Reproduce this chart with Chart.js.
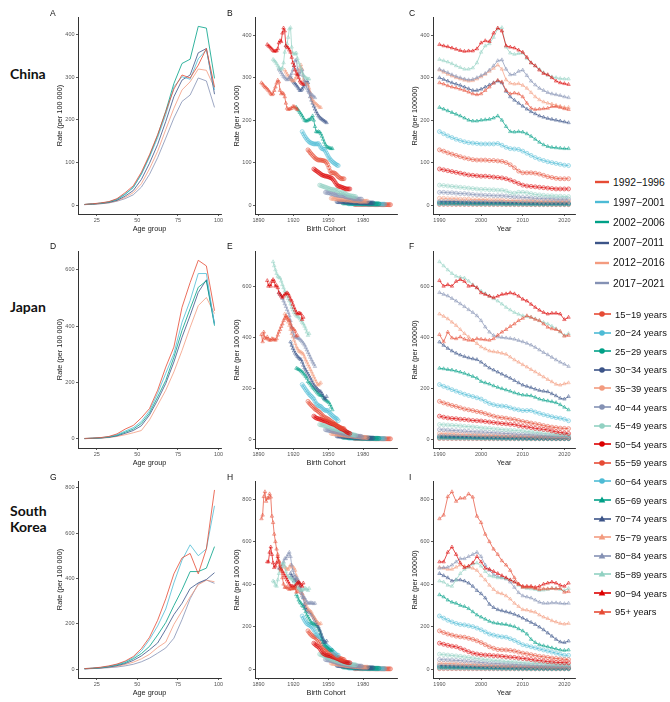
<!DOCTYPE html>
<html>
<head>
<meta charset="utf-8">
<script src="https://cdn.jsdelivr.net/npm/chart.js@4.4.1/dist/chart.umd.min.js"></script>
<style>
  body { margin: 0; width: 670px; height: 702px; position: relative; background: #fff; overflow: hidden;
         font-family: "Liberation Sans", Arial, sans-serif; }
  canvas { position: absolute; }
  .tag { position: absolute; font-size: 8.5px; color: #111; line-height: 1; }
  .country { position: absolute; font-family: Lato, "Liberation Sans", sans-serif; font-weight: bold;
             font-size: 14px; line-height: 16px; color: #111; }
  .leg { position: absolute; display: flex; align-items: center; color: #111; white-space: nowrap; }
  .leg svg { margin-right: 2px; }
</style>
</head>
<body>
<script>
// ---- categories / ticks ----
const years = [1990,1991,1992,1993,1994,1995,1996,1997,1998,1999,2000,2001,2002,2003,2004,2005,
               2006,2007,2008,2009,2010,2011,2012,2013,2014,2015,2016,2017,2018,2019,2020,2021];
const ageLabels = ['15−19 years','20−24 years','25−29 years','30−34 years','35−39 years','40−44 years',
                   '45−49 years','50−54 years','55−59 years','60−64 years','65−69 years','70−74 years',
                   '75−79 years','80−84 years','85−89 years','90−94 years','95+ years'];
const ageMid = [17.5,22.5,27.5,32.5,37.5,42.5,47.5,52.5,57.5,62.5,67.5,72.5,77.5,82.5,87.5,92.5,97.5];
const periodLabels = ['1992−1996','1997−2001','2002−2006','2007−2011','2012−2016','2017−2021'];
const ageTicks = [25, 50, 75, 100];
const cohortTicks = [1890, 1920, 1950, 1980];
const yearTicks = [1990, 2000, 2010, 2020];
const chinaTicks = [0, 100, 200, 300, 400];
const japanTicks = [0, 200, 400, 600];
const koreaTicks = [0, 200, 400, 600, 800];

// ---- China, rate per 100 000 by year (1990-2021) ----
const cn15 = [1.5,1.5,1.5,1.5,1.4,1.4,1.4,1.4,1.3,1.3,1.3,1.3,1.2,1.2,1.2,1.2,1.1,1.1,1.1,1.1,1,1,1,1,1,1,1,1,1,1,1,1];
const cn20 = [3,3,3,3,3,3,2.8,2.8,2.8,2.6,2.6,2.6,2.5,2.5,2.5,2.4,2.4,2.3,2.3,2.2,2.2,2.1,2.1,2,2,2,2,2,2,2,2,2];
const cn25 = [5,5,5,5,4.5,4.5,4.5,4.5,4,4,4,4,4,4,4,4,3.5,3.5,3.5,3.5,3.5,3.5,3,3,3,3,3,3,3,3,3,3];
const cn30 = [8,8,8,8,8,7.5,7.5,7,7,7,7,7,6.5,6.5,6.5,6.5,6,6,6,6,5.5,5.5,5.5,5.5,5,5,5,5,5,5,5,5];
const cn35 = [16,16,15,15,15,14,14,14,13,13,13,13,12,12,12,12,11,11,11,10,10,10,10,10,9,9,9,9,9,9,9,9];
const cn40 = [30,30,29,29,28,27,27,26,25,24,24,23,23,22,22,22,21,20,19,19,18,18,17,16,16,15,15,15,14,14,14,14];
const cn45 = [47,46,45,44,43,42,41,40,39,38,37,37,36,36,35,35,33,29,28,30,30,29,27,25,24,23,22,22,21,21,20,20];
const cn50 = [85,83,81,79,77,75,73,71,70,69,68,68,67,66,65,64,62,59,55,51,47,45,44,43,42,41,40,39,38,38,38,38];
const cn55 = [130,127,123,120,117,114,111,109,107,106,106,106,105,105,104,103,100,95,88,80,76,76,76,75,73,70,67,65,63,62,62,62];
const cn60 = [173,168,163,159,155,152,149,147,146,145,144,144,144,144,145,141,136,133,132,131,127,122,117,112,108,105,102,100,98,96,94,93];
const cn65 = [230,226,222,218,214,210,205,200,198,198,200,201,202,205,210,200,185,173,172,173,172,168,162,155,148,142,138,136,135,134,133,133];
const cn70 = [300,296,292,288,285,282,278,274,270,270,273,278,283,288,292,288,268,255,247,240,233,226,220,215,210,207,204,202,200,198,196,194];
const cn75 = [318,313,308,304,300,297,294,292,293,297,302,308,315,322,330,320,295,287,285,286,282,275,265,255,248,243,240,238,235,233,230,230];
const cn80 = [320,316,312,307,303,300,297,295,296,300,305,310,318,328,340,342,320,307,308,315,318,305,292,283,275,270,265,262,260,258,255,253];
const cn85 = [343,340,337,333,328,324,320,320,323,335,360,375,380,395,415,418,372,358,355,357,358,345,335,328,320,312,306,302,300,298,297,297];
const cn90 = [378,375,373,370,367,364,362,363,363,368,382,387,385,405,417,410,375,372,370,365,360,348,335,328,318,310,307,300,292,288,286,284];
const cn95 = [288,285,281,278,276,273,270,266,262,260,262,270,278,287,294,290,270,262,264,262,255,240,228,225,226,227,228,232,232,230,227,225];

// ---- Japan ----
const jp15 = [2,2,2,1.9,1.9,1.8,1.8,1.7,1.7,1.6,1.6,1.5,1.5,1.4,1.4,1.3,1.3,1.2,1.2,1.1,1.1,1,1,1,1,1,1,1,1,1,1,1];
const jp20 = [4,4,3.9,3.8,3.7,3.6,3.5,3.4,3.3,3.2,3.1,3,2.9,2.8,2.7,2.6,2.5,2.4,2.3,2.2,2.1,2,2,2,2,2,2,2,2,2,2,2];
const jp25 = [7,7,6.8,6.6,6.4,6.2,6,5.8,5.6,5.4,5.2,5,4.8,4.6,4.4,4.2,4,3.9,3.8,3.7,3.6,3.5,3.4,3.3,3.2,3.1,3,3,3,3,3,3];
const jp30 = [12,12,11.5,11,11,10.5,10,10,9.5,9,9,8.5,8,8,7.5,7,7,6.5,6.5,6,6,5.5,5.5,5,5,4.5,4.5,4.5,4,4,4,4];
const jp35 = [22,22,21,21,20,19,19,18,17,17,16,15,15,14,14,13,13,12,12,11,11,10,10,9,9,8,8,7,7,7,6,6];
const jp40 = [37,36,35,34,33,32,31,30,29,28,28,27,26,25,24,23,22,21,20,19,19,18,17,16,15,14,13,12,12,11,11,10];
const jp45 = [57,56,55,54,53,52,50,49,48,46,44,43,42,40,39,37,36,35,34,33,32,30,28,27,25,23,21,20,18,17,16,15];
const jp50 = [90,86,83,81,80,78,77,75,73,72,71,69,67,65,63,61,60,58,57,53,50,48,45,42,40,38,36,32,29,26,24,22];
const jp55 = [148,142,137,132,128,123,118,115,112,108,105,100,95,90,86,84,82,79,77,73,69,66,63,60,57,53,50,47,45,43,42,41];
const jp60 = [214,207,201,194,188,182,176,171,167,162,157,148,140,135,131,130,128,123,118,115,112,112,112,106,101,96,92,88,84,82,78,72];
const jp65 = [278,276,273,271,267,263,258,252,246,239,226,221,216,209,203,198,193,188,182,177,173,172,170,164,157,153,150,147,143,135,125,115];
const jp70 = [381,368,356,346,337,330,324,319,315,312,302,290,279,271,263,255,247,239,230,221,212,207,202,196,191,188,186,178,170,160,157,167];
const jp75 = [491,482,472,459,446,430,414,401,388,375,362,354,346,343,341,337,333,322,311,302,292,283,273,264,254,244,234,225,215,212,217,221];
const jp80 = [575,568,562,552,542,531,520,508,497,484,465,440,420,407,401,399,397,395,392,387,382,376,369,360,350,340,331,321,311,302,294,285];
const jp85 = [696,680,664,650,639,635,632,620,606,594,581,571,561,551,542,530,517,507,497,490,484,481,478,472,465,458,452,443,433,420,407,414];
const jp90 = [622,600,606,600,619,626,619,600,603,594,574,568,561,555,561,568,570,574,570,561,549,542,529,517,506,497,491,494,494,491,469,478];
const jp95 = [410,382,420,397,394,401,392,388,388,394,392,390,388,394,408,420,430,442,452,465,474,484,478,470,465,452,439,433,430,423,404,407];

// ---- South Korea ----
const kr15 = [2,2,2,1.9,1.9,1.8,1.8,1.7,1.7,1.6,1.6,1.5,1.5,1.4,1.4,1.3,1.3,1.2,1.2,1.1,1.1,1,1,1,1,1,1,1,1,1,1,1];
const kr20 = [5,4.9,4.8,4.7,4.6,4.5,4.4,4.2,4,3.8,3.6,3.4,3.2,3,2.9,2.8,2.7,2.6,2.5,2.4,2.3,2.2,2.1,2,2,2,2,2,2,2,2,2];
const kr25 = [10,9.7,9.4,9.1,8.8,8.5,8.2,7.9,7.6,7.3,7,6.7,6.4,6.1,5.8,5.5,5.3,5.1,4.9,4.7,4.5,4.4,4.3,4.2,4.1,4,4,4,4,4,4,4];
const kr30 = [17,16.5,16,15.5,15,14.5,14,13.5,13,12.5,12,11.5,11,10.5,10,9.5,9,9,8.5,8,8,7.5,7.5,7,7,6.5,6.5,6,6,6,6,6];
const kr35 = [28,27,26,26,25,24,23,22,21,20,19,18,17,16,16,15,14,14,13,13,12,12,11,11,10,10,10,9,9,9,9,9];
const kr40 = [45,44,43,42,41,40,38,37,35,33,31,30,28,27,26,25,24,23,22,21,20,19,18,18,17,16,16,15,15,14,14,14];
const kr45 = [70,68,66,64,62,60,57,55,52,50,47,45,43,41,40,38,36,35,34,32,30,29,28,27,26,25,24,23,22,21,20,20];
const kr50 = [122,117,112,108,105,98,90,82,75,71,68,66,65,63,62,60,58,56,55,52,50,48,45,42,40,38,35,34,32,31,30,30];
const kr55 = [180,172,165,160,155,152,150,145,140,133,125,115,105,98,92,91,90,88,85,80,75,72,68,64,60,58,55,52,50,48,46,45];
const kr60 = [250,240,230,222,215,210,208,204,200,193,185,175,165,160,155,152,150,143,135,125,115,110,105,100,95,90,85,80,75,70,65,65];
const kr65 = [350,340,325,315,310,300,295,285,270,255,245,235,225,218,215,212,210,205,200,190,180,165,140,125,115,110,105,100,95,90,88,90];
const kr70 = [450,440,430,415,420,420,415,405,390,370,355,335,305,290,280,275,270,265,258,250,240,230,220,210,198,185,170,155,140,128,125,132];
const kr75 = [480,475,470,470,480,490,485,480,475,465,440,420,395,375,360,355,345,330,310,295,280,278,272,268,255,245,238,228,222,215,212,215];
const kr80 = [475,478,480,490,505,520,520,530,540,550,530,490,465,445,435,430,425,410,385,360,345,340,335,325,315,310,310,312,312,310,308,310];
const kr85 = [415,410,395,390,420,450,470,480,495,500,485,460,440,435,430,430,425,420,410,395,385,380,378,375,370,372,375,380,380,375,370,380];
const kr90 = [505,505,550,575,540,500,478,485,500,530,505,475,470,460,450,440,430,420,410,400,390,390,390,385,390,400,405,410,405,395,390,405];
const kr95 = [708,725,812,835,790,805,805,825,810,720,690,635,600,565,540,510,490,465,430,400,385,385,385,380,375,378,378,380,378,380,362,365];

// ---- period curves by age group (15-19 ... 95+) ----
const cnP1992 = [1.5,3,5,8,15,29,45,77,118,165,219,272,305,298,328,367,277];
const cnP1997 = [1.3,2.7,4.5,7.5,14,26,42,72,112,158,212,277,301,295,343,364,270];
const cnP2002 = [1.3,2.6,4.3,7,13,25,41,73,115,163,220,285,332,342,419,415,297];
const cnP2007 = [1.1,2.3,3.8,6.2,11,21,34,60,98,142,196,254,293,305,357,367,260];
const cnP2012 = [1,2,3.3,5.5,10,18,29,50,85,126,177,227,270,289,319,316,275];
const cnP2017 = [0.9,1.8,3,5,9,15,24,42,72,111,157,204,243,258,298,291,229];

const jpP1992 = [2,3,5,9,18,35,48,75,108,173,255,326,467,555,634,614,455];
const jpP1997 = [1.5,3,4.5,8,15,28,40,62,100,162,233,303,414,491,587,587,406];
const jpP2002 = [1.5,2.5,4,7,13,24,35,55,92,149,208,290,385,462,538,561,402];
const jpP2007 = [1.3,2.3,3.5,6,11,20,30,47,85,138,197,273,361,438,520,565,409];
const jpP2012 = [1,2,3,5,9,15,22,30,68,120,173,238,314,396,473,502,445];

const krP1992 = [2,4,8,14,22,35,55,90,140,215,310,420,490,510,420,530,790];
const krP1997 = [2,4,7,12,20,32,50,80,130,190,265,380,480,548,500,530,720];
const krP2002 = [1.5,3,6,11,18,28,45,68,100,150,205,280,350,430,430,445,540];
const krP2007 = [1.3,3,5,9,15,24,38,58,85,115,175,240,290,355,380,395,425];
const krP2012 = [1.2,2.5,4.5,8,12,20,30,45,65,95,119,197,256,318,372,392,385];
const krP2017 = [1,2,4,6,9,14,21,32,48,70,93,136,218,310,376,393,378];

// ---- assembled lists ----
const chinaRates = [cn15,cn20,cn25,cn30,cn35,cn40,cn45,cn50,cn55,cn60,cn65,cn70,cn75,cn80,cn85,cn90,cn95];
const japanRates = [jp15,jp20,jp25,jp30,jp35,jp40,jp45,jp50,jp55,jp60,jp65,jp70,jp75,jp80,jp85,jp90,jp95];
const koreaRates = [kr15,kr20,kr25,kr30,kr35,kr40,kr45,kr50,kr55,kr60,kr65,kr70,kr75,kr80,kr85,kr90,kr95];
const chinaPeriods = [cnP1992,cnP1997,cnP2002,cnP2007,cnP2012,cnP2017];
const japanPeriods = [jpP1992,jpP1997,jpP2002,jpP2007,jpP2012];
const koreaPeriods = [krP1992,krP1997,krP2002,krP2007,krP2012,krP2017];

const palette = ['#E64B35','#4DBBD5','#00A087','#3C5488','#F39B7F','#8491B4','#91D1C2','#DC0000'];
const FONT = '"Liberation Sans", Arial, sans-serif';

// panel grid (plot area edges)
const colLeft = [78, 255, 433], colRight = [221, 397, 575];
const rowTop = [17, 251, 481], rowBottom = [214, 448, 678];

function rgba(hex, a) {
  const n = parseInt(hex.slice(1), 16);
  return `rgba(${n >> 16},${(n >> 8) & 255},${n & 255},${a})`;
}

function axis(min, max, ticks, title, isX) {
  return {
    type: 'linear', min, max,
    afterBuildTicks: s => { s.ticks = ticks.map(v => ({ value: v })); },
    afterFit: s => {
      if (isX) { s.height = 22; s.paddingLeft = 0; s.paddingRight = 0; }
      else { s.width = 30; s.paddingTop = 0; s.paddingBottom = 0; }
    },
    grid: { display: true, drawOnChartArea: false, drawTicks: true, tickLength: 2, color: '#333', lineWidth: 0.8 },
    border: { display: true, color: '#333', width: 1 },
    ticks: { color: '#555', font: { size: 5.5, family: FONT }, padding: 1.5, maxRotation: 0, autoSkip: false,
             callback: v => String(v) },
    title: { display: true, text: title, color: '#222', font: { size: 7.3, family: FONT },
             padding: isX ? { top: 0, bottom: 2.5 } : { top: 7.5, bottom: 0 } }
  };
}

function panel(col, row, datasets, xr, xticks, xtitle, yr, yticks, ytitle) {
  const c = document.createElement('canvas');
  c.width = colRight[col] - colLeft[col] + 38;
  c.height = rowBottom[row] - rowTop[row] + 26;
  c.style.left = (colLeft[col] - 30) + 'px';
  c.style.top = (rowTop[row] - 4) + 'px';
  document.body.appendChild(c);
  new Chart(c, {
    type: 'line',
    data: { datasets },
    options: {
      responsive: false, animation: false, devicePixelRatio: 1,
      layout: { padding: { top: 4, right: 8, left: 0, bottom: 0 } },
      plugins: { legend: { display: false }, tooltip: { enabled: false } },
      scales: {
        x: axis(xr[0], xr[1], xticks, xtitle, true),
        y: axis(yr[0], yr[1], yticks, ytitle, false)
      }
    }
  });
}

function periodSets(list) {
  return list.map((vals, p) => ({
    data: ageMid.map((a, k) => ({ x: a, y: vals[k] })),
    borderColor: rgba(palette[p], 0.8), borderWidth: 1, pointRadius: 0, tension: 0, fill: false
  }));
}

function ageSets(rates, byCohort) {
  return rates.map((vals, i) => ({
    data: years.map((yr, j) => ({ x: byCohort ? yr - ageMid[i] : yr, y: vals[j] })),
    borderColor: rgba(palette[i % 8], 0.7), borderWidth: 1, tension: 0, fill: false,
    pointStyle: i < 10 ? 'circle' : 'triangle', pointRadius: 2,
    pointBorderColor: rgba(palette[i % 8], 0.6), pointBackgroundColor: rgba(palette[i % 8], 0.12),
    pointBorderWidth: 0.8,
    order: rates.length - i
  }));
}

const ageRange = [13.5, 101.5], cohortRange = [1886.95, 2009.05], yearRange = [1988.45, 2022.55];
const rowSpec = [
  { rates: chinaRates, periods: chinaPeriods, ticks: chinaTicks, yA: [-21, 441], yB: [-21, 441], yC: [-21, 441] },
  { rates: japanRates, periods: japanPeriods, ticks: japanTicks, yA: [-32, 667], yB: [-35, 735], yC: [-35, 735] },
  { rates: koreaRates, periods: koreaPeriods, ticks: koreaTicks, yA: [-39.5, 829.5], yB: [-42, 882], yC: [-42, 882] }
];
rowSpec.forEach((r, row) => {
  panel(0, row, periodSets(r.periods), ageRange, ageTicks, 'Age group', r.yA, r.ticks, 'Rate (per 100 000)');
  panel(1, row, ageSets(r.rates, true), cohortRange, cohortTicks, 'Birth Cohort', r.yB, r.ticks, 'Rate (per 100 000)');
  panel(2, row, ageSets(r.rates, false), yearRange, yearTicks, 'Year', r.yC, r.ticks, 'Rate (per 100000)');
});

// panel letters and country names
const letters = ['A','B','C','D','E','F','G','H','I'];
const letterX = [50, 227, 409], letterY = [9, 242, 473];
letters.forEach((l, k) => {
  const d = document.createElement('div');
  d.className = 'tag'; d.textContent = l;
  d.style.left = letterX[k % 3] + 'px'; d.style.top = letterY[Math.floor(k / 3)] + 'px';
  document.body.appendChild(d);
});
const countries = [['China'], ['Japan'], ['South', 'Korea']];
const countryY = [66, 299, 503];
countries.forEach((lines, k) => {
  const d = document.createElement('div');
  d.className = 'country'; d.innerHTML = lines.join('<br>');
  d.style.left = '10px'; d.style.top = countryY[k] + 'px';
  document.body.appendChild(d);
});

// legends
periodLabels.forEach((t, p) => {
  const d = document.createElement('div');
  d.className = 'leg';
  d.style.left = '595px'; d.style.top = (182 + p * 20.2 - 7) + 'px'; d.style.height = '14px';
  d.style.fontSize = '10.3px';
  d.innerHTML = `<svg width="16" height="8"><line x1="0" y1="4" x2="14" y2="4" stroke="${palette[p]}" stroke-width="2.4"/></svg>${t}`;
  document.body.appendChild(d);
});
ageLabels.forEach((t, i) => {
  const col = palette[i % 8];
  const mark = i < 10
    ? `<circle cx="8" cy="5" r="2.8" fill="${col}"/>`
    : `<polygon points="8,1.6 11.3,7.4 4.7,7.4" fill="${col}"/>`;
  const d = document.createElement('div');
  d.className = 'leg';
  d.style.left = '594px'; d.style.top = (314 + i * 18.6 - 7) + 'px'; d.style.height = '14px';
  d.style.fontSize = '9.4px';
  d.innerHTML = `<svg width="19" height="10"><line x1="0" y1="5" x2="17" y2="5" stroke="${col}" stroke-width="1.6"/>${mark}</svg>${t}`;
  document.body.appendChild(d);
});
</script>
</body>
</html>
